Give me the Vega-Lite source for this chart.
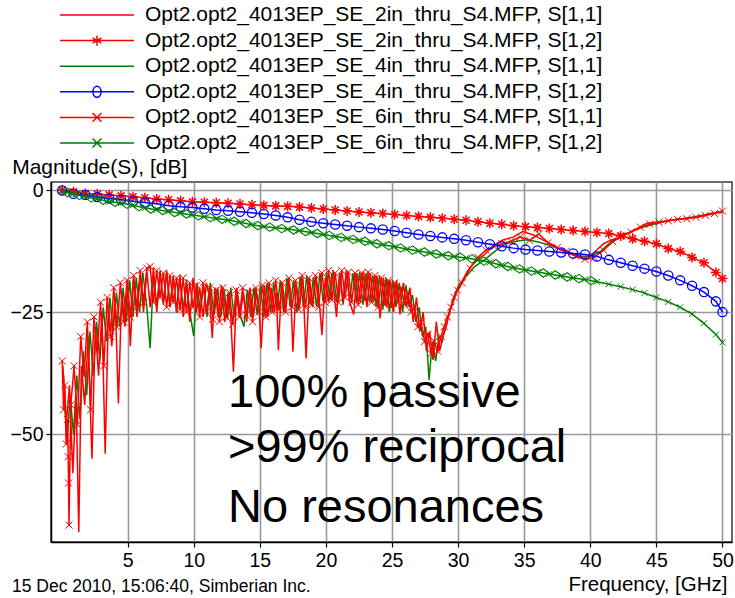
{
"$schema": "https://vega.github.io/schema/vega-lite/v6.json",
"width": 681, "height": 360,
"autosize": {"type": "none"},
"padding": {"left": 51, "top": 182, "right": 3, "bottom": 56},
"background": "white",
"title": {"text": "15 Dec 2010, 15:06:40, Simberian Inc.", "orient": "bottom", "anchor": "start", "frame": "group", "dx": -39, "dy": -3, "baseline": "alphabetic", "offset": 0, "fontSize": 17.5, "fontWeight": "normal", "font": "Liberation Sans", "color": "black"},
"config": {
  "font": "Liberation Sans",
  "view": {"stroke": "#3a3a3a", "strokeWidth": 1.5},
  "axis": {"domainColor": "black", "domainWidth": 1.5, "tickColor": "black", "tickWidth": 1.2, "tickSize": 5, "gridColor": "#999999", "gridWidth": 1.6, "gridOpacity": 1, "labelColor": "black", "labelFont": "Liberation Sans", "labelFontSize": 19.5, "titleFont": "Liberation Sans", "titleColor": "black", "titleFontWeight": "normal"},
  "legend": {"padding": 0, "title": null, "orient": "none", "legendX": 8, "legendY": -179.5, "direction": "vertical", "columns": 1,
       "symbolSize": 5476, "symbolStrokeWidth": 1.5, "clipHeight": 25, "rowPadding": 0.6, "labelOffset": 10,
       "labelFontSize": 21, "labelFont": "Liberation Sans", "labelColor": "black", "labelLimit": 1000, "symbolOpacity": 1, "symbolFillColor": "transparent"}
},
"datasets": {
"names": [{"s":"Opt2.opt2_4013EP_SE_2in_thru_S4.MFP, S[1,1]"},{"s":"Opt2.opt2_4013EP_SE_2in_thru_S4.MFP, S[1,2]"},{"s":"Opt2.opt2_4013EP_SE_4in_thru_S4.MFP, S[1,1]"},{"s":"Opt2.opt2_4013EP_SE_4in_thru_S4.MFP, S[1,2]"},{"s":"Opt2.opt2_4013EP_SE_6in_thru_S4.MFP, S[1,1]"},{"s":"Opt2.opt2_4013EP_SE_6in_thru_S4.MFP, S[1,2]"}],
"a": [{"f":0.1,"v":-36},{"f":0.35,"v":-48},{"f":0.6,"v":-40},{"f":0.85,"v":-58},{"f":1.1,"v":-42},{"f":1.3,"v":-70},{"f":1.5,"v":-36},{"f":1.75,"v":-44},{"f":2.0,"v":-30},{"f":2.3,"v":-55},{"f":2.55,"v":-28},{"f":2.8,"v":-38},{"f":3.05,"v":-25},{"f":3.3,"v":-54},{"f":3.55,"v":-24},{"f":3.8,"v":-32},{"f":4.05,"v":-22},{"f":4.3,"v":-43.7},{"f":4.55,"v":-21},{"f":4.8,"v":-28},{"f":5.0,"v":-19},{"f":5.2,"v":-32},{"f":5.45,"v":-18},{"f":5.7,"v":-26},{"f":5.95,"v":-17.5},{"f":6.2,"v":-25},{"f":6.45,"v":-16.5},{"f":6.7,"v":-24},{"f":6.95,"v":-16},{"f":7.2,"v":-25},{"f":7.45,"v":-17},{"f":7.7,"v":-23},{"f":7.95,"v":-16.5},{"f":8.2,"v":-24},{"f":8.45,"v":-18},{"f":8.7,"v":-25},{"f":8.95,"v":-17.5},{"f":9.2,"v":-26},{"f":9.45,"v":-19},{"f":9.7,"v":-27},{"f":9.95,"v":-18},{"f":10.2,"v":-25},{"f":10.45,"v":-20},{"f":10.7,"v":-26},{"f":10.95,"v":-19},{"f":11.2,"v":-22},{"f":11.4,"v":-30.3},{"f":11.6,"v":-20},{"f":11.85,"v":-26},{"f":12.1,"v":-19.5},{"f":12.35,"v":-27},{"f":12.6,"v":-21},{"f":12.8,"v":-26},{"f":13.0,"v":-37.2},{"f":13.25,"v":-20},{"f":13.5,"v":-26},{"f":13.75,"v":-21},{"f":14.0,"v":-27},{"f":14.25,"v":-20},{"f":14.5,"v":-26},{"f":14.75,"v":-21},{"f":14.95,"v":-25},{"f":15.1,"v":-32.4},{"f":15.35,"v":-19.5},{"f":15.6,"v":-26},{"f":15.85,"v":-20},{"f":16.1,"v":-25},{"f":16.25,"v":-21},{"f":16.4,"v":-32.8},{"f":16.65,"v":-19},{"f":16.9,"v":-25},{"f":17.15,"v":-18.5},{"f":17.35,"v":-22},{"f":17.5,"v":-33.1},{"f":17.75,"v":-19},{"f":18.0,"v":-24},{"f":18.25,"v":-18},{"f":18.5,"v":-34.5},{"f":18.75,"v":-18},{"f":19.0,"v":-24},{"f":19.25,"v":-17.5},{"f":19.5,"v":-23},{"f":19.7,"v":-29.7},{"f":19.95,"v":-18},{"f":20.2,"v":-23},{"f":20.45,"v":-17},{"f":20.65,"v":-22},{"f":20.8,"v":-26},{"f":21.05,"v":-17},{"f":21.3,"v":-23},{"f":21.55,"v":-16.5},{"f":21.8,"v":-23},{"f":22.1,"v":-25.5},{"f":22.35,"v":-17},{"f":22.6,"v":-23},{"f":22.85,"v":-16.7},{"f":23.1,"v":-24},{"f":23.35,"v":-17},{"f":23.6,"v":-23},{"f":23.85,"v":-17.5},{"f":24.1,"v":-26.3},{"f":24.35,"v":-18},{"f":24.6,"v":-24},{"f":24.85,"v":-18.4},{"f":25.1,"v":-25},{"f":25.35,"v":-18.5},{"f":25.6,"v":-25.5},{"f":25.85,"v":-19},{"f":26.1,"v":-24},{"f":26.35,"v":-20},{"f":26.6,"v":-27},{"f":26.85,"v":-22},{"f":27.1,"v":-29},{"f":27.35,"v":-25},{"f":27.6,"v":-33},{"f":27.85,"v":-29},{"f":28.1,"v":-34.8},{"f":28.35,"v":-27},{"f":28.6,"v":-33},{"f":28.85,"v":-30},{"f":29.1,"v":-28},{"f":29.35,"v":-25},{"f":29.6,"v":-23.2},{"f":29.85,"v":-21},{"f":30.1,"v":-19.8},{"f":30.6,"v":-17.1},{"f":31.0,"v":-15.5},{"f":31.5,"v":-14.2},{"f":32.0,"v":-13.2},{"f":32.7,"v":-11.3},{"f":33.4,"v":-10.2},{"f":34.2,"v":-9.6},{"f":34.9,"v":-8.5},{"f":35.7,"v":-9.2},{"f":36.4,"v":-10.2},{"f":37.2,"v":-11.3},{"f":38.0,"v":-12.6},{"f":38.7,"v":-13.3},{"f":39.5,"v":-14},{"f":40.2,"v":-13},{"f":41.0,"v":-11},{"f":41.6,"v":-10.2},{"f":42.3,"v":-9.6},{"f":43.3,"v":-8.2},{"f":44.3,"v":-6.8},{"f":45.3,"v":-6.5},{"f":46.3,"v":-6.1},{"f":47.3,"v":-5.8},{"f":48.3,"v":-5.5},{"f":49.1,"v":-4.8},{"f":50,"v":-4.4}],
"b": [{"f":0.15,"v":-38},{"f":0.4,"v":-52},{"f":0.65,"v":-42},{"f":0.9,"v":-50},{"f":1.15,"v":-38},{"f":1.4,"v":-47},{"f":1.65,"v":-33},{"f":1.9,"v":-42},{"f":2.15,"v":-29},{"f":2.4,"v":-38},{"f":2.65,"v":-27},{"f":2.9,"v":-35},{"f":3.15,"v":-24},{"f":3.4,"v":-31},{"f":3.65,"v":-22},{"f":3.9,"v":-29},{"f":4.15,"v":-21},{"f":4.4,"v":-28},{"f":4.65,"v":-20},{"f":4.9,"v":-27},{"f":5.15,"v":-18.5},{"f":5.4,"v":-26},{"f":5.65,"v":-18},{"f":5.9,"v":-25},{"f":6.15,"v":-17},{"f":6.45,"v":-24},{"f":6.7,"v":-32.4},{"f":6.95,"v":-17.5},{"f":7.2,"v":-24},{"f":7.45,"v":-16.5},{"f":7.7,"v":-23.5},{"f":7.95,"v":-17},{"f":8.2,"v":-24},{"f":8.45,"v":-17.5},{"f":8.7,"v":-25},{"f":8.95,"v":-18},{"f":9.2,"v":-24.5},{"f":9.45,"v":-18.5},{"f":9.7,"v":-25},{"f":10.0,"v":-29.9},{"f":10.25,"v":-19},{"f":10.5,"v":-25},{"f":10.75,"v":-19.5},{"f":11.0,"v":-26},{"f":11.25,"v":-19},{"f":11.55,"v":-25.5},{"f":11.8,"v":-20},{"f":12.05,"v":-26},{"f":12.3,"v":-20.5},{"f":12.55,"v":-26.5},{"f":12.8,"v":-20},{"f":13.05,"v":-26},{"f":13.3,"v":-21},{"f":13.55,"v":-26},{"f":13.8,"v":-28},{"f":14.05,"v":-20.5},{"f":14.3,"v":-26},{"f":14.55,"v":-20},{"f":14.8,"v":-25.5},{"f":15.05,"v":-19.5},{"f":15.3,"v":-26},{"f":15.55,"v":-19},{"f":15.8,"v":-25},{"f":16.05,"v":-19},{"f":16.3,"v":-24.5},{"f":16.55,"v":-18.5},{"f":16.8,"v":-25},{"f":17.05,"v":-18},{"f":17.3,"v":-24},{"f":17.55,"v":-18.5},{"f":17.8,"v":-25},{"f":18.05,"v":-17.8},{"f":18.3,"v":-24},{"f":18.55,"v":-17.5},{"f":18.8,"v":-23.5},{"f":19.05,"v":-18},{"f":19.3,"v":-24},{"f":19.55,"v":-17},{"f":19.8,"v":-23},{"f":20.05,"v":-17},{"f":20.3,"v":-22.5},{"f":20.55,"v":-16.5},{"f":20.8,"v":-23},{"f":21.05,"v":-17},{"f":21.3,"v":-23.5},{"f":21.55,"v":-16.5},{"f":21.8,"v":-22.5},{"f":22.05,"v":-17},{"f":22.3,"v":-23},{"f":22.55,"v":-16.8},{"f":22.8,"v":-23.5},{"f":23.05,"v":-17},{"f":23.3,"v":-23},{"f":23.55,"v":-17.5},{"f":23.8,"v":-24},{"f":24.05,"v":-17.5},{"f":24.3,"v":-24.5},{"f":24.55,"v":-18},{"f":24.8,"v":-25},{"f":25.05,"v":-18.5},{"f":25.3,"v":-24},{"f":25.55,"v":-19},{"f":25.8,"v":-25},{"f":26.05,"v":-19.5},{"f":26.3,"v":-24},{"f":26.55,"v":-21.5},{"f":26.8,"v":-27},{"f":27.05,"v":-24},{"f":27.3,"v":-30},{"f":27.55,"v":-28},{"f":27.8,"v":-38.9},{"f":28.05,"v":-31},{"f":28.3,"v":-35},{"f":28.55,"v":-30},{"f":28.8,"v":-31},{"f":29.05,"v":-27},{"f":29.3,"v":-25.5},{"f":29.55,"v":-23},{"f":29.8,"v":-21},{"f":30.05,"v":-19.5},{"f":30.5,"v":-18},{"f":31.2,"v":-15.8},{"f":32,"v":-14.3},{"f":32.8,"v":-12.5},{"f":33.6,"v":-11.0},{"f":34.4,"v":-10.5},{"f":35.2,"v":-10.2},{"f":36,"v":-10.6},{"f":36.8,"v":-11.2},{"f":37.6,"v":-12.0},{"f":38.4,"v":-12.8},{"f":39.2,"v":-13.5},{"f":40,"v":-13.6},{"f":40.8,"v":-12.5},{"f":41.6,"v":-10.5},{"f":42.4,"v":-9.3},{"f":43.2,"v":-8.4},{"f":44,"v":-7.6},{"f":44.8,"v":-7.0},{"f":45.6,"v":-6.5},{"f":46.4,"v":-6.1},{"f":47.2,"v":-5.8},{"f":48,"v":-5.4},{"f":48.8,"v":-5.0},{"f":49.6,"v":-4.6},{"f":50,"v":-4.5}],
"c": [{"f":0.05,"v":-35},{"f":0.15,"v":-45},{"f":0.25,"v":-40},{"f":0.35,"v":-52},{"f":0.45,"v":-47},{"f":0.5,"v":-54.6},{"f":0.53,"v":-60},{"f":0.56,"v":-68.6},{"f":0.7,"v":-44},{"f":0.95,"v":-36},{"f":1.2,"v":-48},{"f":1.45,"v":-30},{"f":1.7,"v":-38},{"f":1.95,"v":-27},{"f":2.2,"v":-45},{"f":2.45,"v":-26},{"f":2.7,"v":-33},{"f":2.95,"v":-23},{"f":3.2,"v":-36},{"f":3.45,"v":-22},{"f":3.7,"v":-30},{"f":3.95,"v":-20},{"f":4.2,"v":-28},{"f":4.45,"v":-19},{"f":4.7,"v":-27},{"f":4.95,"v":-18.5},{"f":5.2,"v":-26},{"f":5.45,"v":-17.5},{"f":5.7,"v":-24},{"f":5.95,"v":-16.5},{"f":6.2,"v":-23},{"f":6.45,"v":-16},{"f":6.7,"v":-15.7},{"f":6.95,"v":-23},{"f":7.2,"v":-16.5},{"f":7.45,"v":-22},{"f":7.7,"v":-17},{"f":7.95,"v":-24},{"f":8.2,"v":-17.5},{"f":8.45,"v":-23},{"f":8.7,"v":-18},{"f":8.95,"v":-24.5},{"f":9.2,"v":-18},{"f":9.45,"v":-25},{"f":9.7,"v":-19},{"f":9.95,"v":-24},{"f":10.2,"v":-19.5},{"f":10.45,"v":-26},{"f":10.7,"v":-19},{"f":10.95,"v":-25},{"f":11.2,"v":-20},{"f":11.45,"v":-26.5},{"f":11.7,"v":-20.5},{"f":11.95,"v":-27},{"f":12.2,"v":-20},{"f":12.45,"v":-26},{"f":12.7,"v":-21},{"f":12.95,"v":-27.5},{"f":13.2,"v":-20.5},{"f":13.45,"v":-26},{"f":13.7,"v":-20},{"f":13.95,"v":-25.5},{"f":14.2,"v":-21},{"f":14.45,"v":-27},{"f":14.7,"v":-20},{"f":14.95,"v":-25},{"f":15.2,"v":-19.5},{"f":15.45,"v":-26},{"f":15.7,"v":-19},{"f":15.95,"v":-25},{"f":16.2,"v":-18.5},{"f":16.45,"v":-24.5},{"f":16.7,"v":-19},{"f":16.95,"v":-25},{"f":17.2,"v":-18},{"f":17.45,"v":-24},{"f":17.7,"v":-18.5},{"f":17.95,"v":-24.5},{"f":18.2,"v":-17.5},{"f":18.45,"v":-24},{"f":18.7,"v":-18},{"f":18.95,"v":-23.5},{"f":19.2,"v":-17.5},{"f":19.45,"v":-24},{"f":19.7,"v":-17},{"f":19.95,"v":-23},{"f":20.2,"v":-16.5},{"f":20.45,"v":-22.5},{"f":20.7,"v":-17},{"f":20.95,"v":-23},{"f":21.2,"v":-16.5},{"f":21.45,"v":-22},{"f":21.7,"v":-16.8},{"f":21.95,"v":-23},{"f":22.2,"v":-17},{"f":22.45,"v":-23.5},{"f":22.7,"v":-17},{"f":22.95,"v":-22.5},{"f":23.2,"v":-16.8},{"f":23.45,"v":-23},{"f":23.7,"v":-17.5},{"f":23.95,"v":-24},{"f":24.2,"v":-18},{"f":24.45,"v":-23.5},{"f":24.7,"v":-18.5},{"f":24.95,"v":-24},{"f":25.2,"v":-19},{"f":25.45,"v":-23},{"f":25.7,"v":-20},{"f":25.95,"v":-23.5},{"f":26.2,"v":-21},{"f":26.45,"v":-25},{"f":26.7,"v":-24},{"f":26.95,"v":-28},{"f":27.2,"v":-27},{"f":27.45,"v":-31},{"f":27.7,"v":-29.5},{"f":27.95,"v":-33.5},{"f":28.2,"v":-31},{"f":28.45,"v":-33},{"f":28.7,"v":-30},{"f":28.95,"v":-28},{"f":29.2,"v":-26},{"f":29.45,"v":-24},{"f":29.7,"v":-22},{"f":29.95,"v":-20.5},{"f":30.3,"v":-19},{"f":30.9,"v":-16},{"f":31.5,"v":-13.8},{"f":32.1,"v":-12.3},{"f":32.7,"v":-11.5},{"f":33.3,"v":-11.0},{"f":34,"v":-10.5},{"f":34.7,"v":-9.6},{"f":35.4,"v":-10.3},{"f":36.1,"v":-9.0},{"f":36.8,"v":-10.8},{"f":37.5,"v":-11.8},{"f":38.2,"v":-12.5},{"f":38.9,"v":-13.5},{"f":39.6,"v":-14.2},{"f":40.3,"v":-13.8},{"f":41,"v":-12.3},{"f":41.7,"v":-10.6},{"f":42.4,"v":-9.4},{"f":43.1,"v":-8.6},{"f":43.8,"v":-7.6},{"f":44.5,"v":-7.0},{"f":45.2,"v":-6.6},{"f":45.9,"v":-6.3},{"f":46.6,"v":-6.0},{"f":47.3,"v":-5.9},{"f":48,"v":-5.6},{"f":48.7,"v":-5.2},{"f":49.4,"v":-4.8},{"f":50,"v":-4.3}],
"d": [{"f":0.05,"v":0},{"f":0.9,"v":-0.35},{"f":1.8,"v":-0.7},{"f":2.7,"v":-0.8},{"f":3.6,"v":-1.0},{"f":4.5,"v":-1.2},{"f":5.4,"v":-1.4},{"f":6.3,"v":-1.6},{"f":7.2,"v":-1.85},{"f":8.1,"v":-2.0},{"f":9,"v":-2.2},{"f":9.9,"v":-2.4},{"f":10.8,"v":-2.5},{"f":11.7,"v":-2.6},{"f":12.6,"v":-2.7},{"f":13.5,"v":-2.85},{"f":14.4,"v":-3.0},{"f":15.3,"v":-3.15},{"f":16.2,"v":-3.25},{"f":17.1,"v":-3.35},{"f":18,"v":-3.5},{"f":18.9,"v":-3.7},{"f":19.8,"v":-3.9},{"f":20.7,"v":-4.1},{"f":21.6,"v":-4.3},{"f":22.5,"v":-4.5},{"f":23.4,"v":-4.65},{"f":24.3,"v":-4.8},{"f":25.2,"v":-5.0},{"f":26.1,"v":-5.2},{"f":27,"v":-5.4},{"f":27.9,"v":-5.6},{"f":28.8,"v":-5.8},{"f":29.7,"v":-6.0},{"f":30.6,"v":-6.2},{"f":31.5,"v":-6.5},{"f":32.4,"v":-6.8},{"f":33.3,"v":-7.0},{"f":34.2,"v":-7.3},{"f":35.1,"v":-7.5},{"f":36,"v":-7.7},{"f":36.9,"v":-7.9},{"f":37.8,"v":-8.1},{"f":38.7,"v":-8.3},{"f":39.6,"v":-8.5},{"f":40.5,"v":-8.7},{"f":41.4,"v":-8.9},{"f":42.3,"v":-9.4},{"f":43.2,"v":-10.0},{"f":44.1,"v":-10.5},{"f":45,"v":-11.0},{"f":45.9,"v":-12.0},{"f":46.8,"v":-12.6},{"f":47.7,"v":-13.8},{"f":48.6,"v":-14.9},{"f":49.5,"v":-16.9},{"f":50,"v":-18.1}],
"e": [{"f":0.05,"v":-0.1},{"f":0.9,"v":-0.75},{"f":1.8,"v":-1.0},{"f":2.7,"v":-1.45},{"f":3.6,"v":-1.75},{"f":4.5,"v":-2.0},{"f":5.4,"v":-2.3},{"f":6.3,"v":-2.55},{"f":7.2,"v":-2.8},{"f":8.1,"v":-3.2},{"f":9,"v":-3.45},{"f":9.9,"v":-3.6},{"f":10.8,"v":-3.85},{"f":11.7,"v":-4.1},{"f":12.6,"v":-4.25},{"f":13.5,"v":-4.45},{"f":14.4,"v":-4.65},{"f":15.3,"v":-4.9},{"f":16.2,"v":-5.2},{"f":17.1,"v":-5.6},{"f":18,"v":-6.1},{"f":18.9,"v":-6.5},{"f":19.8,"v":-6.8},{"f":20.7,"v":-7.05},{"f":21.6,"v":-7.3},{"f":22.5,"v":-7.6},{"f":23.4,"v":-7.85},{"f":24.3,"v":-8.1},{"f":25.2,"v":-8.4},{"f":26.1,"v":-8.75},{"f":27,"v":-9.1},{"f":27.9,"v":-9.4},{"f":28.8,"v":-9.7},{"f":29.7,"v":-10.0},{"f":30.6,"v":-10.3},{"f":31.5,"v":-10.7},{"f":32.4,"v":-11.1},{"f":33.3,"v":-11.5},{"f":34.2,"v":-11.9},{"f":35.1,"v":-12.2},{"f":36,"v":-12.4},{"f":36.9,"v":-12.6},{"f":37.8,"v":-12.8},{"f":38.7,"v":-13.0},{"f":39.6,"v":-13.2},{"f":40.5,"v":-13.6},{"f":41.4,"v":-14.3},{"f":42.3,"v":-14.9},{"f":43.2,"v":-15.5},{"f":44.1,"v":-16.1},{"f":45,"v":-16.7},{"f":45.9,"v":-17.5},{"f":46.8,"v":-18.5},{"f":47.7,"v":-19.6},{"f":48.6,"v":-20.9},{"f":49.5,"v":-22.8},{"f":50,"v":-25.0}],
"g": [{"f":0.05,"v":-0.3},{"f":0.9,"v":-0.75},{"f":1.8,"v":-1.45},{"f":2.7,"v":-1.8},{"f":3.6,"v":-2.4},{"f":4.5,"v":-2.65},{"f":5.4,"v":-3.1},{"f":6.3,"v":-3.7},{"f":7.2,"v":-4.05},{"f":8.1,"v":-4.4},{"f":9,"v":-4.75},{"f":9.9,"v":-5.1},{"f":10.8,"v":-5.45},{"f":11.7,"v":-5.85},{"f":12.6,"v":-6.15},{"f":13.5,"v":-6.6},{"f":14.4,"v":-7.1},{"f":15.3,"v":-7.5},{"f":16.2,"v":-7.75},{"f":17.1,"v":-8.0},{"f":18,"v":-8.35},{"f":18.9,"v":-8.7},{"f":19.8,"v":-9.1},{"f":20.7,"v":-9.5},{"f":21.6,"v":-9.9},{"f":22.5,"v":-10.3},{"f":23.4,"v":-10.75},{"f":24.3,"v":-11.2},{"f":25.2,"v":-11.6},{"f":26.1,"v":-12.1},{"f":27,"v":-12.5},{"f":27.9,"v":-12.9},{"f":28.8,"v":-13.3},{"f":29.7,"v":-13.6},{"f":30.6,"v":-13.9},{"f":31.5,"v":-14.3},{"f":32.4,"v":-14.8},{"f":33.3,"v":-15.4},{"f":34.2,"v":-15.9},{"f":35.1,"v":-16.4},{"f":36,"v":-16.8},{"f":36.9,"v":-17.2},{"f":37.8,"v":-17.6},{"f":38.7,"v":-18.0},{"f":39.6,"v":-18.3},{"f":40.5,"v":-18.8},{"f":41.4,"v":-19.3},{"f":42.3,"v":-19.8},{"f":43.2,"v":-20.4},{"f":44.1,"v":-21.1},{"f":45,"v":-22.0},{"f":45.9,"v":-22.9},{"f":46.8,"v":-24.0},{"f":47.7,"v":-25.4},{"f":48.6,"v":-27.3},{"f":49.5,"v":-29.6},{"f":50,"v":-31.2}],
"gd": [{"f":0.45,"v":-0.5},{"f":1.35,"v":-1.1},{"f":2.25,"v":-1.6},{"f":3.15,"v":-2.1},{"f":4.05,"v":-2.5},{"f":4.95,"v":-2.9},{"f":5.85,"v":-3.4},{"f":6.75,"v":-3.9},{"f":7.65,"v":-4.2},{"f":8.55,"v":-4.6},{"f":9.45,"v":-4.9},{"f":10.35,"v":-5.3},{"f":11.25,"v":-5.65},{"f":12.15,"v":-6.0},{"f":13.05,"v":-6.4},{"f":13.95,"v":-6.85},{"f":14.85,"v":-7.3},{"f":15.75,"v":-7.6},{"f":16.65,"v":-7.9},{"f":17.55,"v":-8.2},{"f":18.45,"v":-8.5},{"f":19.35,"v":-8.9},{"f":20.25,"v":-9.3},{"f":21.15,"v":-9.7},{"f":22.05,"v":-10.1},{"f":22.95,"v":-10.5},{"f":23.85,"v":-11.0},{"f":24.75,"v":-11.4},{"f":25.65,"v":-11.85},{"f":26.55,"v":-12.3},{"f":27.45,"v":-12.7},{"f":28.35,"v":-13.1},{"f":29.25,"v":-13.45},{"f":30.15,"v":-13.75},{"f":31.05,"v":-14.1},{"f":31.95,"v":-14.55},{"f":32.85,"v":-15.1},{"f":33.75,"v":-15.65},{"f":34.65,"v":-16.15},{"f":35.55,"v":-16.6},{"f":36.45,"v":-17.0},{"f":37.35,"v":-17.4},{"f":38.25,"v":-17.8},{"f":39.15,"v":-18.15},{"f":40.05,"v":-18.55}],
"txt": [{"f":12.59,"v":-44.37,"t":"100% passive"},{"f":12.59,"v":-55.75,"t":">99% reciprocal"},{"f":12.59,"v":-67.9,"t":"No resonances"}]
},
"encoding": {
  "x": {"field": "f", "type": "quantitative", "scale": {"domain": [-0.8, 50.72], "nice": false, "zero": false},
        "axis": {"values": [5,10,15,20,25,30,35,40,45,50], "title": "Frequency, [GHz]", "titleFontSize": 20.5, "titleX": 676, "titleY": 48, "titleAlign": "right", "titleBaseline": "alphabetic", "labelPadding": 4, "labelFlush": false, "labelOverlap": false, "grid": true}},
  "y": {"field": "v", "type": "quantitative", "scale": {"domain": [-72.07, 1.64], "nice": false, "zero": false},
        "axis": {"values": [0,-25,-50], "title": "Magnitude(S), [dB]", "titleAngle": 0, "titleFontSize": 21, "titleX": -39.3, "titleY": -8.7, "titleAlign": "left", "titleBaseline": "alphabetic", "labelPadding": 3, "labelOverlap": false, "grid": true}}
},
"layer": [
  {"data": {"name": "names"}, "mark": {"type": "point", "filled": false, "opacity": 0},
   "encoding": {
     "color": {"field": "s", "type": "nominal",
       "scale": {"domain": ["Opt2.opt2_4013EP_SE_2in_thru_S4.MFP, S[1,1]", "Opt2.opt2_4013EP_SE_2in_thru_S4.MFP, S[1,2]", "Opt2.opt2_4013EP_SE_4in_thru_S4.MFP, S[1,1]", "Opt2.opt2_4013EP_SE_4in_thru_S4.MFP, S[1,2]", "Opt2.opt2_4013EP_SE_6in_thru_S4.MFP, S[1,1]", "Opt2.opt2_4013EP_SE_6in_thru_S4.MFP, S[1,2]"],
                 "range": ["#ff0000", "#ff0000", "#008000", "#0000ff", "#ff0000", "#008000"]},
       "legend": {"title": null}},
     "shape": {"field": "s", "type": "nominal",
       "scale": {"domain": ["Opt2.opt2_4013EP_SE_2in_thru_S4.MFP, S[1,1]", "Opt2.opt2_4013EP_SE_2in_thru_S4.MFP, S[1,2]", "Opt2.opt2_4013EP_SE_4in_thru_S4.MFP, S[1,1]", "Opt2.opt2_4013EP_SE_4in_thru_S4.MFP, S[1,2]", "Opt2.opt2_4013EP_SE_6in_thru_S4.MFP, S[1,1]", "Opt2.opt2_4013EP_SE_6in_thru_S4.MFP, S[1,2]"],
                 "range": ["M-1,0L1,0", "M-1,0L1,0M0,-0.14L0,0.14M-0.12,-0.07L0.12,0.07M-0.12,0.07L0.12,-0.07", "M-1,0L1,0", "M-1,0L1,0M0.11,0A0.11,0.15,0,1,1,-0.11,0A0.11,0.15,0,1,1,0.11,0", "M-1,0L1,0M-0.12,-0.12L0.12,0.12M-0.12,0.12L0.12,-0.12", "M-1,0L1,0M-0.12,-0.12L0.12,0.12M-0.12,0.12L0.12,-0.12"]},
       "legend": {"title": null}}}},
  {"data": {"name": "b"}, "mark": {"type": "line", "strokeWidth": 1.5, "clip": true},
   "encoding": {"color": {"datum": "Opt2.opt2_4013EP_SE_4in_thru_S4.MFP, S[1,1]", "type": "nominal"}}},
  {"data": {"name": "a"}, "mark": {"type": "line", "strokeWidth": 1.5, "clip": true},
   "encoding": {"color": {"datum": "Opt2.opt2_4013EP_SE_2in_thru_S4.MFP, S[1,1]", "type": "nominal"}}},
  {"data": {"name": "c"}, "mark": {"type": "line", "strokeWidth": 1.5, "clip": true, "point": {"shape": "M-1,-1L1,1M-1,1L1,-1", "filled": false, "size": 50, "strokeWidth": 1}},
   "encoding": {"color": {"datum": "Opt2.opt2_4013EP_SE_6in_thru_S4.MFP, S[1,1]", "type": "nominal"}}},
  {"data": {"name": "d"}, "mark": {"type": "line", "strokeWidth": 1.5, "clip": true, "point": {"shape": "M-1,0L1,0M0,-1L0,1M-0.7,-0.7L0.7,0.7M-0.7,0.7L0.7,-0.7", "filled": false, "size": 100, "strokeWidth": 1.5}},
   "encoding": {"color": {"datum": "Opt2.opt2_4013EP_SE_2in_thru_S4.MFP, S[1,2]", "type": "nominal"}}},
  {"data": {"name": "e"}, "mark": {"type": "line", "strokeWidth": 1.5, "clip": true, "point": {"shape": "circle", "filled": false, "size": 85, "strokeWidth": 1.3}},
   "encoding": {"color": {"datum": "Opt2.opt2_4013EP_SE_4in_thru_S4.MFP, S[1,2]", "type": "nominal"}}},
  {"data": {"name": "gd"}, "mark": {"type": "point", "filled": false, "strokeWidth": 1.1, "opacity": 1, "clip": true},
   "encoding": {"x": {"field": "f", "type": "quantitative"}, "y": {"field": "v", "type": "quantitative"},
     "color": {"value": "#008000"}, "shape": {"value": "M-1.15,0L0,-0.85L1.15,0L0,0.85Z"}, "size": {"value": 100}}},
  {"data": {"name": "g"}, "mark": {"type": "line", "strokeWidth": 1.5, "clip": true, "point": {"shape": "M-1,-1L1,1M-1,1L1,-1", "filled": false, "size": 36, "strokeWidth": 1}},
   "encoding": {"color": {"datum": "Opt2.opt2_4013EP_SE_6in_thru_S4.MFP, S[1,2]", "type": "nominal"}}},
  {"data": {"name": "txt"}, "mark": {"type": "text", "align": "left", "baseline": "alphabetic", "fontSize": 47, "font": "Liberation Sans", "color": "black"},
   "encoding": {"text": {"field": "t", "type": "nominal"}}}
]
}
